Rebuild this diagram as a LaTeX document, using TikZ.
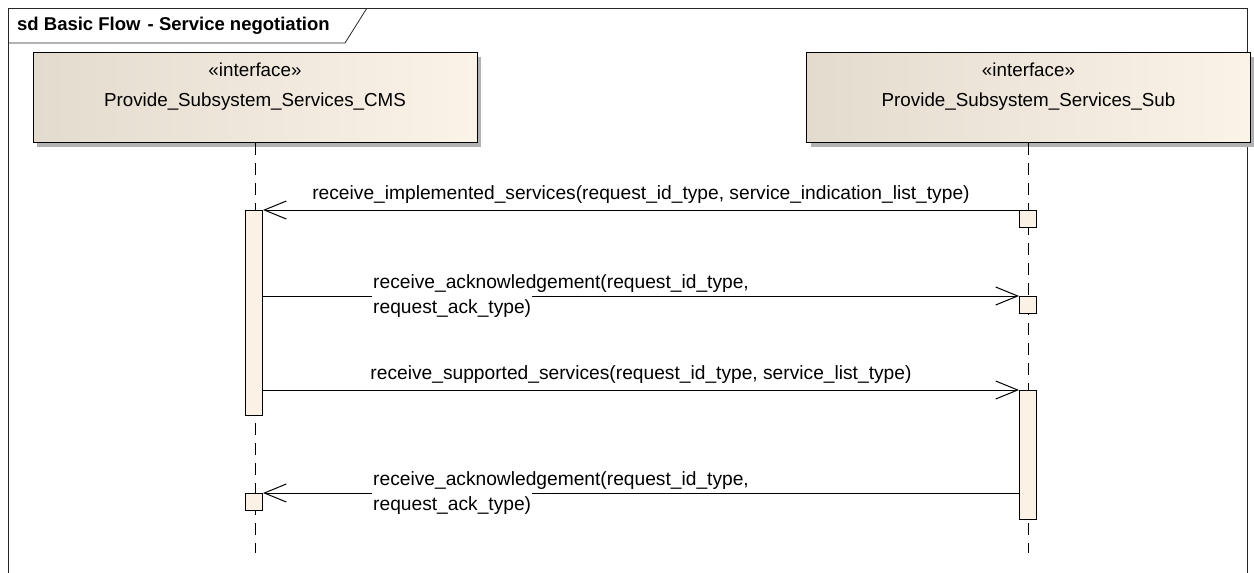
\documentclass[tikz,border=0pt]{standalone}
\usepackage{fontspec}
\setmainfont{Liberation Sans}
\usepackage{xcolor}
\usetikzlibrary{arrows.meta,calc,positioning,shadows}

\definecolor{headL}{RGB}{227,219,206}
\definecolor{headR}{RGB}{251,243,232}
\definecolor{actFill}{RGB}{251,241,228}

\tikzset{
  lifehead/.style={draw, line width=1pt, left color=headL, right color=headR,
    minimum width=444pt, minimum height=90pt, inner sep=0pt,
    drop shadow={shadow xshift=4pt, shadow yshift=-4pt, fill=black!30, opacity=1}},
  headtext/.style={font=\fontsize{18.8}{22}\selectfont, inner sep=0pt, text height=14pt, text depth=4pt},
  actbox/.style={draw, line width=1pt, fill=actFill, minimum width=17pt, inner sep=0pt, anchor=north},
  lifeline/.style={line width=1pt, dash pattern=on 12pt off 8pt},
  msg/.style={line width=1pt, -{Straight Barb[length=22pt, width=18pt, line width=1pt]}},
  msglabel/.style={font=\fontsize{19.2}{23}\selectfont, inner sep=1pt},
}

\begin{document}
\begin{tikzpicture}[x=1pt,y=-1pt]
  \useasboundingbox (0,0) rectangle (1254,573);
  % frame
  \draw[black!85, line width=0.8pt] (8,573) -- (8,8) -- (1247,8) -- (1247,573);
  \draw[black!85, line width=0.8pt] (8,43) -- (345,43) -- (367,8);
  \node[anchor=west, inner sep=0pt, font=\bfseries\fontsize{18.5}{21}\selectfont] (title) at (17,25.5) {sd Basic Flow\hspace{2pt} - Service negotiation};

  % lifeline heads
  \node[lifehead] (cmsHead) at (255,97.5) {};
  \node[lifehead] (subHead) at (1028.5,97.5) {};
  \node[headtext, below=10.5pt of cmsHead.north] (cmsStereo) {«interface»};
  \node[headtext, below=11.5pt of cmsStereo] (cmsName) {Provide\_Subsystem\_Services\_CMS};
  \node[headtext, below=10.5pt of subHead.north] (subStereo) {«interface»};
  \node[headtext, below=11.5pt of subStereo] (subName) {Provide\_Subsystem\_Services\_Sub};

  % lifelines
  \coordinate (cmsEnd) at (255,553);
  \coordinate (subEnd) at (1028.5,553);
  \draw[lifeline] (cmsHead.south) -- (cmsEnd);
  \draw[lifeline] (subHead.south) -- (subEnd);

  % activations
  \node[actbox, minimum height=205pt] (cmsAct) at (254,210) {};
  \node[actbox, minimum height=17pt] (cmsAct2) at (254,493) {};
  \node[actbox, minimum height=17pt] (subAct1) at (1028,210) {};
  \node[actbox, minimum height=17pt] (subAct2) at (1028,296) {};
  \node[actbox, minimum height=129pt] (subAct3) at (1028,390) {};

  % messages
  \draw[msg] (subAct1.north west) -- node[msglabel, above=5pt] {receive\_implemented\_services(request\_id\_type, service\_indication\_list\_type)} (cmsAct.north east);
  \draw[msg] (cmsAct.east |- subAct2.north) -- (subAct2.north west);
  \node[msglabel, anchor=base west] (ack1a) at (372,288) {receive\_acknowledgement(request\_id\_type,};
  \node[msglabel, anchor=base west, fill=white, inner ysep=6pt] (ack1b) at (372,313) {request\_ack\_type)};
  \draw[msg] (cmsAct.east |- subAct3.north) -- node[msglabel, above=5pt] {receive\_supported\_services(request\_id\_type, service\_list\_type)} (subAct3.north west);
  \draw[msg] (subAct3.west |- cmsAct2.north) -- (cmsAct2.north east);
  \node[msglabel, anchor=base west] (ack2a) at (372,485) {receive\_acknowledgement(request\_id\_type,};
  \node[msglabel, anchor=base west, fill=white, inner ysep=6pt] (ack2b) at (372,510) {request\_ack\_type)};
\end{tikzpicture}
\end{document}
